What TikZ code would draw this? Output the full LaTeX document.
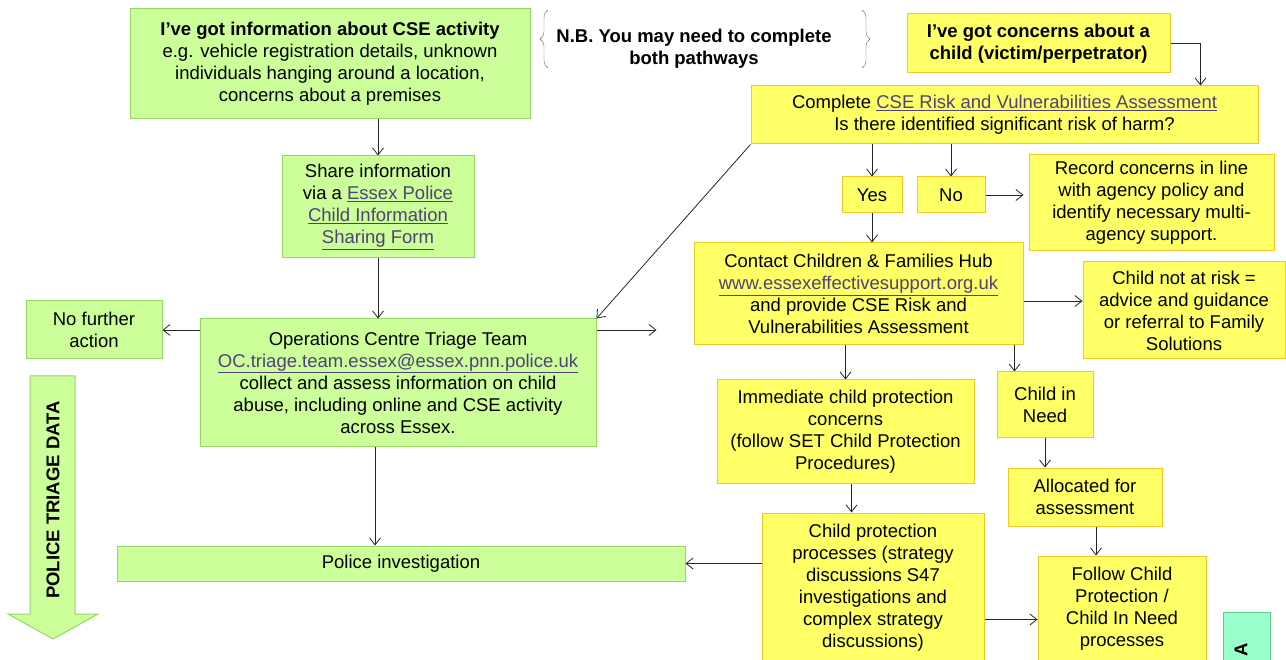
\documentclass[tikz,border=0pt]{standalone}
\usepackage{fontspec}
\setmainfont{Liberation Sans}
\usetikzlibrary{arrows.meta,decorations.pathreplacing}
\definecolor{gfill}{RGB}{204,255,153}
\definecolor{gline}{RGB}{150,215,100}
\definecolor{yfill}{RGB}{255,255,102}
\definecolor{yline}{RGB}{240,200,40}
\definecolor{mfill}{RGB}{153,255,204}
\definecolor{mline}{RGB}{100,200,140}
\definecolor{linkc}{RGB}{80,65,120}
\newcommand{\lnk}[1]{\textcolor{linkc}{\underline{#1}}}
\tikzset{
  box/.style={draw, line width=1pt, align=center, inner sep=1pt, font=\fontsize{18.5}{22}\selectfont},
  gbox/.style={box, fill=gfill, draw=gline},
  ybox/.style={box, fill=yfill, draw=yline},
  dims/.style 2 args={minimum width=#1pt, minimum height=#2pt},
  flow/.style={->, line width=0.8pt, draw=black!85},
}
\begin{document}
\begin{tikzpicture}[x=1pt, y=-1pt, >={Straight Barb[length=7pt,width=11pt]}]
    \useasboundingbox (0,0) rectangle (1286,660);
    \clip (0,0) rectangle (1286,660);

    % police side
    \node[gbox, dims={400}{110}] (info) at (330,64)
        {\textbf{I’ve got information about CSE activity}\\ e.g. vehicle registration details, unknown\\ individuals hanging around a location,\\ concerns about a premises};
    \node[gbox, dims={192}{102}] (share) at (378,207)
        {Share information\\ via a \lnk{Essex Police}\\ \lnk{Child Information}\\ \lnk{Sharing Form}};
    \node[gbox, dims={136}{58}] (nofurther) at (94,330) {No further\\ action};
    \node[gbox, dims={396}{127}] (opsteam) at (398,382.5)
        {Operations Centre Triage Team\\ \lnk{OC.triage.team.essex@essex.pnn.police.uk}\\ collect and assess information on child\\ abuse, including online and CSE activity\\ across Essex.};
    \node[gbox, dims={568}{35}] (police) at (401,563.5) {Police investigation};

    % triage arrow
    \draw[gline, fill=gfill, line width=1pt] (30,376) -- (75,376) -- (75,614) -- (98,614)
        -- (53,639) -- (8,614) -- (30,614) -- cycle;
    \node[rotate=90, font=\fontsize{18.5}{22}\selectfont\bfseries] (triage) at (53,500) {POLICE TRIAGE DATA};

    % note between pathways
    \node[font=\fontsize{18.5}{22}\selectfont\bfseries, align=center] (nb) at (694,49)
        {N.B. You may need to complete\\ both pathways};
    \draw[black!60, decorate, decoration={brace, amplitude=8pt}] (548,68) -- (548,10);
    \draw[black!60, decorate, decoration={brace, amplitude=8pt}] (862,10) -- (862,68);

    % children's services side
    \node[ybox, dims={263}{59}] (concern) at (1038.5,43.5)
        {\textbf{I’ve got concerns about a}\\ \textbf{child (victim/perpetrator)}};
    \node[ybox, dims={507}{58}] (complete) at (1004.5,115)
        {Complete \lnk{CSE Risk and Vulnerabilities Assessment}\\ Is there identified significant risk of harm?};
    \node[ybox, dims={60}{36}] (yes) at (872,195) {Yes};
    \node[ybox, dims={68}{36}] (no) at (951,195) {No};
    \node[ybox, dims={245}{96}] (record) at (1151.5,203)
        {Record concerns in line\\ with agency policy and\\ identify necessary multi-\\ agency support.};
    \node[ybox, dims={329}{102}] (hub) at (858.5,294)
        {Contact Children \& Families Hub\\ \lnk{www.essexeffectivesupport.org.uk}\\ and provide CSE Risk and\\ Vulnerabilities Assessment};
    \node[ybox, dims={202}{97}] (notrisk) at (1184,310.5)
        {Child not at risk =\\ advice and guidance\\ or referral to Family\\ Solutions};
    \node[ybox, dims={257}{103}] (immediate) at (845.5,431.5)
        {Immediate child protection\\ concerns\\ (follow SET Child Protection\\ Procedures)};
    \node[ybox, dims={96}{65}] (cin) at (1045,404.5) {Child in\\ Need};
    \node[ybox, dims={154}{58}] (allocated) at (1085,497) {Allocated for\\ assessment};
    \node[ybox, dims={222}{149}] (cpproc) at (873,587.5)
        {Child protection\\ processes (strategy\\ discussions S47\\ investigations and\\ complex strategy\\ discussions)};
    \node[ybox, dims={168}{106}] (follow) at (1122,609)
        {Follow Child\\ Protection /\\ Child In Need\\ processes};
    \node[draw=mline, fill=mfill, line width=1pt, dims={47}{90}] (mint) at (1246.5,657) {};
    \node[rotate=90, font=\fontsize{18.5}{22}\selectfont\bfseries, inner sep=0pt] (minttext) at (1241,650) {A};

    % connectors
    \draw[flow] (share.north |- info.south) -- (share.north);
    \draw[flow] (share.south) -- (share.south |- opsteam.north);
    \draw[flow] (opsteam.west |- nofurther) -- (nofurther.east);
    \draw[flow, shorten >=37pt] (opsteam.east |- nofurther) -- (hub.west |- nofurther);
    \draw[flow] (complete.south west) -- (opsteam.north east);
    \coordinate (intop) at ([xshift=-58pt]complete.north east);
    \draw[flow] (concern.east) -| (intop);
    \draw[flow] (yes.north |- complete.south) -- (yes.north);
    \draw[flow] (no.north |- complete.south) -- (no.north);
    \draw[flow, shorten >=5pt] (no.east) -- (record.west |- no.east);
    \draw[flow] (yes.south) -- (yes.south |- hub.north);
    \coordinate (hubout) at ([yshift=-7pt]hub.east);
    \draw[flow] (hubout) -- (hubout -| notrisk.west);
    \draw[flow] (immediate.north |- hub.south) -- (immediate.north);
    \coordinate (cinin) at ([xshift=-9pt]hub.south east);
    \draw[flow] (cinin) -- (cinin |- cin.north);
    \draw[flow] (cin.south) -- (cin.south |- allocated.north);
    \coordinate (allocout) at ([xshift=11pt]allocated.south);
    \draw[flow] (allocout) -- (allocout |- follow.north);
    \coordinate (immout) at ([xshift=6pt]immediate.south);
    \draw[flow] (immout) -- (immout |- cpproc.north);
    \coordinate (cpout) at ([yshift=-32pt]cpproc.east);
    \draw[flow] (cpout) -- (cpout -| follow.west);
    \draw[flow] (cpproc.west |- police) -- (police.east);
    \coordinate (opsout) at ([xshift=-23pt]opsteam.south);
    \draw[flow] (opsout) -- (opsout |- police.north);
\end{tikzpicture}
\end{document}
